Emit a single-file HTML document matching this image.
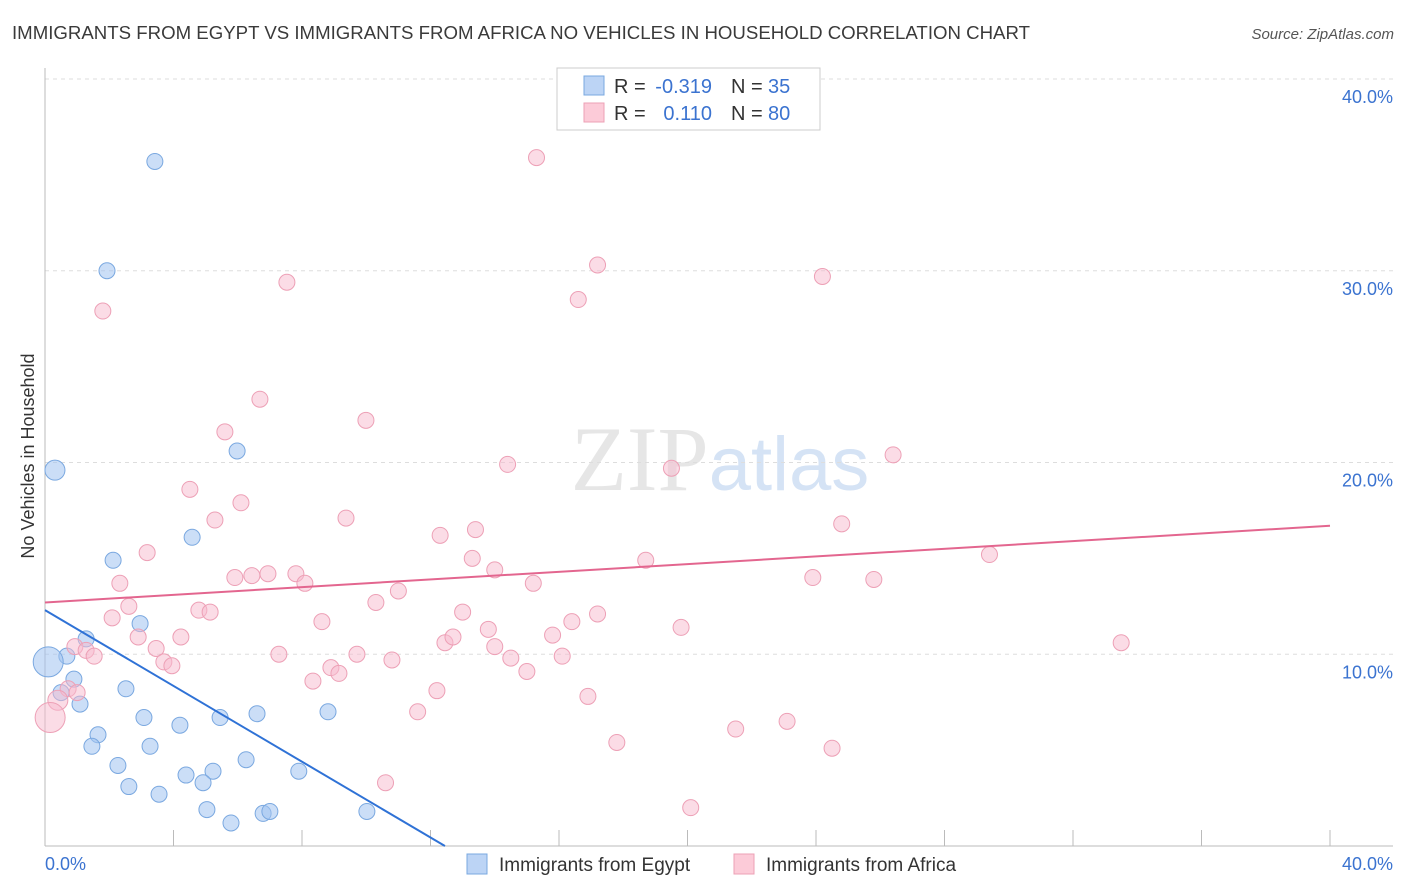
<!DOCTYPE html>
<html><head><meta charset="utf-8"><style>
body{margin:0;background:#fff;font-family:"Liberation Sans",sans-serif}
svg{display:block}
</style></head><body>
<svg id="chart" width="1406" height="892" xmlns="http://www.w3.org/2000/svg" font-family="Liberation Sans, sans-serif">
<text x="12" y="39" font-size="18.5" fill="#3a3a3a" textLength="1018" lengthAdjust="spacingAndGlyphs">IMMIGRANTS FROM EGYPT VS IMMIGRANTS FROM AFRICA NO VEHICLES IN HOUSEHOLD CORRELATION CHART</text>
<text x="1394" y="39" font-size="15" fill="#555" text-anchor="end" font-style="italic">Source: ZipAtlas.com</text>
<text x="720" y="490" font-size="92" text-anchor="middle" fill="#e6e6e6" font-family="Liberation Serif, serif">ZIP<tspan fill="#d5e3f5" font-family="Liberation Sans, sans-serif" font-size="76">atlas</tspan></text>
<g id="grid"></g>
<g id="axes"></g>
<g id="marks"></g>
<g>
<rect x="557" y="68" width="263" height="62" fill="#fff" stroke="#ccc"/>
<rect x="584" y="76" width="20" height="19" fill="#bcd4f5" stroke="#7aa8e0"/>
<rect x="584" y="103" width="20" height="19" fill="#fccbd8" stroke="#eda0b6"/>
<text x="614" y="93" font-size="20" fill="#333">R =</text>
<text x="712" y="93" font-size="20" fill="#3b73d0" text-anchor="end">-0.319</text>
<text x="731" y="93" font-size="20" fill="#333">N =</text>
<text x="768" y="93" font-size="20" fill="#3b73d0">35</text>
<text x="614" y="120" font-size="20" fill="#333">R =</text>
<text x="712" y="120" font-size="20" fill="#3b73d0" text-anchor="end">0.110</text>
<text x="731" y="120" font-size="20" fill="#333">N =</text>
<text x="768" y="120" font-size="20" fill="#3b73d0">80</text>
</g>
<g>
<rect x="467" y="854" width="20" height="20" fill="#bcd4f5" stroke="#7aa8e0"/>
<text x="499" y="871" font-size="19" fill="#333">Immigrants from Egypt</text>
<rect x="734" y="854" width="20" height="20" fill="#fccbd8" stroke="#eda0b6"/>
<text x="766" y="871" font-size="19" fill="#333">Immigrants from Africa</text>
</g>
<text transform="translate(34,456) rotate(-90)" font-size="18" fill="#333" text-anchor="middle">No Vehicles in Household</text>
</svg>
<script>
const yTicks=[10,20,30,40];
const yTickLabels=["10.0%","20.0%","30.0%","40.0%"];
const xTicks=[0,4,8,12,16,20,24,28,32,36,40];
const egyptX=[3.42,1.93,0.31,5.98,4.58,2.12,2.96,1.28,0.68,0.1,0.9,2.52,0.5,1.09,3.08,5.45,6.6,8.81,4.2,1.65,1.46,3.27,6.26,2.27,4.39,5.23,7.9,4.92,2.61,3.55,5.04,5.79,6.79,7.0,10.02];
const egyptY=[35.7,30.0,19.6,20.6,16.1,14.9,11.6,10.8,9.9,9.6,8.7,8.2,8.0,7.4,6.7,6.7,6.9,7.0,6.3,5.8,5.2,5.2,4.5,4.2,3.7,3.9,3.9,3.3,3.1,2.7,1.9,1.2,1.7,1.8,1.8];
const egyptBig=[0,0,1,0,0,0,0,0,0,2,0,0,0,0,0,0,0,0,0,0,0,0,0,0,0,0,0,0,0,0,0,0,0,0,0];
const africaX=[15.3,17.2,7.53,16.6,24.2,1.8,6.69,9.99,5.6,26.4,14.4,19.5,4.51,6.1,9.37,5.29,24.8,13.4,12.3,3.18,13.3,18.7,29.4,14.0,2.33,5.91,6.44,6.94,7.81,8.09,15.2,23.9,25.8,11.0,10.3,2.61,4.79,5.14,13.0,17.2,2.09,8.62,16.4,13.8,19.8,2.9,4.23,15.8,12.45,12.7,14.0,33.5,0.93,1.28,3.46,1.53,7.28,9.71,3.7,3.95,10.8,14.5,16.1,8.9,9.15,15.0,8.34,0.72,12.2,16.9,0.4,11.6,0.16,23.1,21.5,17.8,24.5,10.6,20.1,1.0];
const africaY=[35.9,30.3,29.4,28.5,29.7,27.9,23.3,22.2,21.6,20.4,19.9,19.7,18.6,17.9,17.1,17.0,16.8,16.5,16.2,15.3,15.0,14.9,15.2,14.4,13.7,14.0,14.1,14.2,14.2,13.7,13.7,14.0,13.9,13.3,12.7,12.5,12.3,12.2,12.2,12.1,11.9,11.7,11.7,11.3,11.4,10.9,10.9,11.0,10.6,10.9,10.4,10.6,10.4,10.2,10.3,9.9,10.0,10.0,9.6,9.4,9.7,9.8,9.9,9.3,9.0,9.1,8.6,8.2,8.1,7.8,7.6,7.0,6.7,6.5,6.1,5.4,5.1,3.3,2.0,8.0];
const africaBig=[0,0,0,0,0,0,0,0,0,0,0,0,0,0,0,0,0,0,0,0,0,0,0,0,0,0,0,0,0,0,0,0,0,0,0,0,0,0,0,0,0,0,0,0,0,0,0,0,0,0,0,0,0,0,0,0,0,0,0,0,0,0,0,0,0,0,0,0,0,0,1,0,2,0,0,0,0,0,0,0];
const egyptIntercept=12.3, egyptSlope=-0.988;
const africaIntercept=12.7, africaSlope=0.1;
const NS="http://www.w3.org/2000/svg";
const X0=45,X1=1330,Y0=846,Y40=79;
const sx=v=>X0+(X1-X0)*v/40;
const sy=v=>Y0-(Y0-Y40)*v/40;
function mk(t,a,p){const e=document.createElementNS(NS,t);for(const k in a)e.setAttribute(k,a[k]);p.appendChild(e);return e;}
const grid=document.getElementById('grid'),axes=document.getElementById('axes'),marks=document.getElementById('marks');
yTicks.forEach((t,i)=>{
 const l=mk('line',{x1:X0,x2:1393,y1:sy(t),y2:sy(t),stroke:'#ddd','stroke-dasharray':'4,4'},grid);
 
 
 const tx=mk('text',{x:1393,y:sy(t)+24,'font-size':18,fill:'#3b73d0','text-anchor':'end'},axes);
 tx.textContent=yTickLabels[i];
 
 
});
const ya=mk('line',{x1:X0,x2:X0,y1:68,y2:Y0,stroke:'#bbb'},axes);


const xa=mk('line',{x1:X0,x2:1393,y1:Y0,y2:Y0,stroke:'#bbb'},axes);


xTicks.forEach(t=>{
 const l=mk('line',{x1:sx(t),x2:sx(t),y1:830,y2:Y0,stroke:'#bbb'},axes);
 
 
});
const xl0=mk('text',{x:45,y:870,'font-size':18,fill:'#3b73d0'},axes);xl0.textContent='0.0%';


const xl1=mk('text',{x:1393,y:870,'font-size':18,fill:'#3b73d0','text-anchor':'end'},axes);xl1.textContent='40.0%';


const rad=[8,10,15];
egyptX.forEach((x,i)=>{
 const c=mk('circle',{cx:sx(x),cy:sy(egyptY[i]),r:rad[egyptBig[i]],fill:'rgba(160,195,240,0.55)',stroke:'#7aa8e0','stroke-width':1},marks);
 
 
});
africaX.forEach((x,i)=>{
 const c=mk('circle',{cx:sx(x),cy:sy(africaY[i]),r:rad[africaBig[i]],fill:'rgba(248,185,205,0.5)',stroke:'#eda0b6','stroke-width':1},marks);
 
 
});
const xEnd=-egyptIntercept/egyptSlope;
const el=mk('line',{x1:sx(0),y1:sy(egyptIntercept),x2:sx(xEnd),y2:sy(0),stroke:'#2f72d6','stroke-width':2},marks);


const al=mk('line',{x1:sx(0),y1:sy(africaIntercept),x2:sx(40),y2:sy(africaIntercept+africaSlope*40),stroke:'#e3668f','stroke-width':2},marks);


</script>
</body></html>
